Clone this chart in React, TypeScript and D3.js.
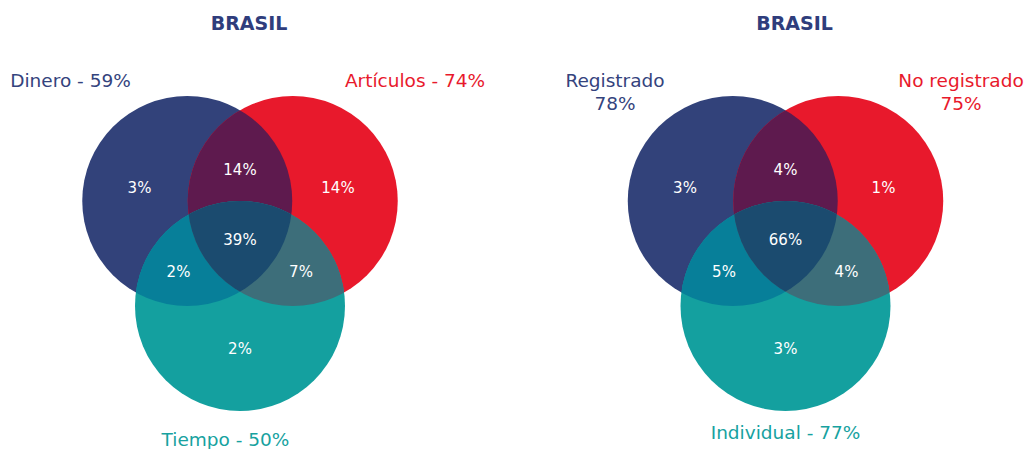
import * as d3 from "d3";
import React, { useEffect, useRef } from "react";

// Data
const panelTitles = ["BRASIL", "BRASIL"];
const setNames1 = ["Dinero", "Artículos", "Tiempo"];
const setTotals1 = [59, 74, 50];
// region order: A only, B only, C only, AB, AC, BC, ABC
const regions1 = [3, 14, 2, 14, 2, 7, 39];
const setNames2 = ["Registrado", "No registrado", "Individual"];
const setTotals2 = [78, 75, 77];
const regions2 = [3, 1, 3, 4, 5, 4, 66];

const colors = {
  a: "#32427a",
  b: "#e8192c",
  c: "#14a09f",
  ab: "#5e1a4e",
  ac: "#077f99",
  bc: "#3d6e7a",
  abc: "#1b4b6f",
  title: "#2f3d7c",
  labelA: "#34437d",
  labelB: "#e8192c",
  labelC: "#17a2a0",
};

const W = 1026;
const H = 449;
const FONT = "'DejaVu Sans', sans-serif";

const App = () => {
  const ref = useRef<SVGSVGElement | null>(null);

  useEffect(() => {
    document.body.style.margin = "0";
    const svg = d3.select(ref.current);
    svg.selectAll("*").remove();

    // layout
    const r = 105;
    const half = 52.75;
    const topY = 201;
    const botY = 306;
    const fmt = (v: number) => `${v}%`;

    const panels = [
      {
        cx: 240, names: setNames1, totals: setTotals1, regions: regions1,
        stacked: false, offA: -169.5, offB: 175, offC: -14.5, bottomY: 446,
      },
      {
        cx: 785.5, names: setNames2, totals: setTotals2, regions: regions2,
        stacked: true, offA: -170.5, offB: 175.5, offC: 0, bottomY: 439,
      },
    ];

    const defs = svg.append("defs");

    panels.forEach((p, i) => {
      const A = { x: p.cx - half, y: topY };
      const B = { x: p.cx + half, y: topY };
      const C = { x: p.cx, y: botY };

      defs.append("clipPath").attr("id", `clipA${i}`)
        .append("circle").attr("cx", A.x).attr("cy", A.y).attr("r", r);
      defs.append("clipPath").attr("id", `clipB${i}`)
        .append("circle").attr("cx", B.x).attr("cy", B.y).attr("r", r);

      const g = svg.append("g");

      // Circles
      g.append("circle").attr("cx", A.x).attr("cy", A.y).attr("r", r).attr("fill", colors.a);
      g.append("circle").attr("cx", B.x).attr("cy", B.y).attr("r", r).attr("fill", colors.b);
      g.append("circle").attr("cx", C.x).attr("cy", C.y).attr("r", r).attr("fill", colors.c);

      // Intersections
      g.append("circle").attr("cx", B.x).attr("cy", B.y).attr("r", r)
        .attr("fill", colors.ab).attr("clip-path", `url(#clipA${i})`);
      g.append("circle").attr("cx", C.x).attr("cy", C.y).attr("r", r)
        .attr("fill", colors.ac).attr("clip-path", `url(#clipA${i})`);
      g.append("circle").attr("cx", C.x).attr("cy", C.y).attr("r", r)
        .attr("fill", colors.bc).attr("clip-path", `url(#clipB${i})`);
      g.append("g").attr("clip-path", `url(#clipB${i})`)
        .append("circle").attr("cx", C.x).attr("cy", C.y).attr("r", r)
        .attr("fill", colors.abc).attr("clip-path", `url(#clipA${i})`);

      // Region labels
      const spots = [
        [-100.5, -8.5], [98, -8.5], [0, 152.5],
        [0, -26], [-61.5, 76], [61, 76], [0, 44],
      ];
      g.selectAll(".region")
        .data(p.regions)
        .enter()
        .append("text")
        .attr("class", "region")
        .attr("x", (d, k) => p.cx + spots[k][0])
        .attr("y", (d, k) => topY + spots[k][1])
        .attr("text-anchor", "middle")
        .style("font-family", FONT)
        .style("font-size", "15px")
        .style("fill", "#ffffff")
        .text((d) => fmt(d));

      // Title
      g.append("text")
        .attr("x", p.cx + 9)
        .attr("y", 30)
        .attr("text-anchor", "middle")
        .style("font-family", FONT)
        .style("font-weight", "bold")
        .style("font-size", "19px")
        .style("fill", colors.title)
        .text(panelTitles[i]);

      // Set labels
      const setLabel = (k: number, x: number, y: number, color: string, stacked: boolean) => {
        const t = g.append("text")
          .attr("x", x)
          .attr("y", y)
          .attr("text-anchor", "middle")
          .style("font-family", FONT)
          .style("font-size", "18.5px")
          .style("fill", color);
        if (stacked) {
          t.append("tspan").attr("x", x).text(p.names[k]);
          t.append("tspan").attr("x", x).attr("dy", 23).text(fmt(p.totals[k]));
        } else {
          t.text(`${p.names[k]} - ${fmt(p.totals[k])}`);
        }
      };
      setLabel(0, p.cx + p.offA, 87, colors.labelA, p.stacked);
      setLabel(1, p.cx + p.offB, 87, colors.labelB, p.stacked);
      setLabel(2, p.cx + p.offC, p.bottomY, colors.labelC, false);
    });
  }, []);

  return (
    <svg
      ref={ref}
      width={W}
      height={H}
      style={{ position: "absolute", left: 0, top: 0, background: "#ffffff" }}
    />
  );
};

export default App;
